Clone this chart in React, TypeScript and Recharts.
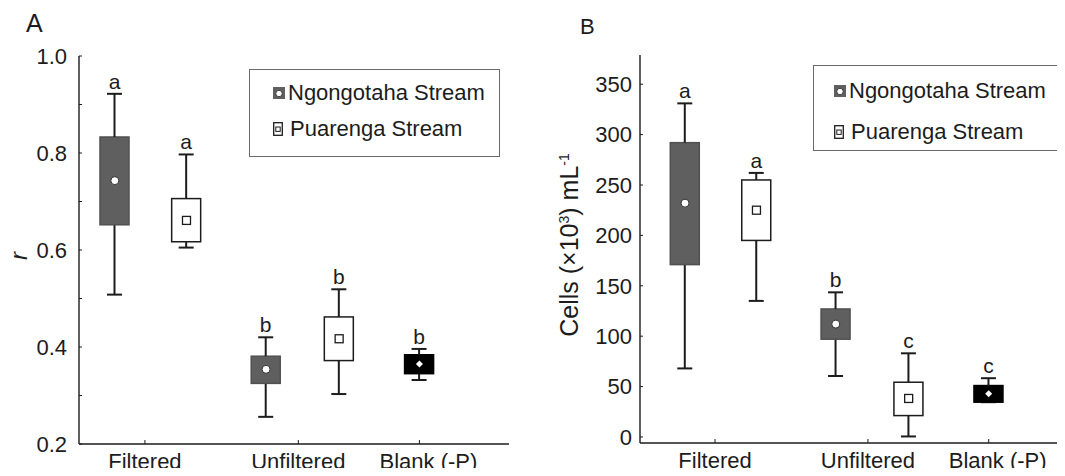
import React from "react";
import { ComposedChart, Bar, Scatter, XAxis, YAxis, LabelList, Label } from "recharts";

const FONT = '"Liberation Sans", Arial, Helvetica, sans-serif';
const INK = "#1c1c1c";
const NGO_FILL = "#5f5f5f";

const treatments = ["Filtered", "Unfiltered", "Blank (-P)"];
// slot of each treatment label / each box along the (numeric) category axis
const treatmentX = [1.42, 3.56, 5.25];
const slotX = [1, 2, 3.11, 4.13, 5.25];
const slotStream = ["ngo", "pua", "ngo", "pua", "blank"];
const streams = ["Ngongotaha Stream", "Puarenga Stream"];

// panel A: r
const rMin = [0.508, 0.605, 0.256, 0.303, 0.332];
const rQ1 = [0.652, 0.617, 0.325, 0.372, 0.345];
const rMean = [0.743, 0.661, 0.354, 0.417, 0.365];
const rQ3 = [0.833, 0.706, 0.381, 0.462, 0.384];
const rMax = [0.922, 0.797, 0.42, 0.519, 0.396];
const rLetters = ["a", "a", "b", "b", "b"];
const rTicks = [0.2, 0.3, 0.4, 0.5, 0.6, 0.7, 0.8, 0.9, 1.0];
const rRightTicks = [0.3, 0.4, 0.5, 0.6, 0.7, 0.8, 0.9];

// panel B: cells (x10^3) per mL
const cMin = [68, 135, 60.5, 0.5, 34.5];
const cQ1 = [171, 195, 97, 21.2, 34.5];
const cMean = [232, 225, 112, 38.2, 42.8];
const cQ3 = [292, 255, 127, 54.3, 51];
const cMax = [331, 262, 143.5, 83, 58.3];
const cLetters = ["a", "a", "b", "c", "c"];
const cTicks = [0, 50, 100, 150, 200, 250, 300, 350];

function buildRows(min: number[], q1: number[], mean: number[], q3: number[], max: number[], letters: string[]) {
  return slotX.map((x, i) => ({
    x,
    stream: slotStream[i],
    letter: letters[i],
    mean: mean[i],
    base: min[i],
    lower: q1[i] - min[i],
    box: q3[i] - q1[i],
    upper: max[i] - q3[i],
  }));
}

const rowsA = buildRows(rMin, rQ1, rMean, rQ3, rMax, rLetters);
const rowsB = buildRows(cMin, cQ1, cMean, cQ3, cMax, cLetters);

const CAP = 15;

const LowerWhisker = (p: any) => {
  const cx = p.x + p.width / 2;
  const y2 = p.y + p.height;
  return (
    <g>
      <line x1={cx} x2={cx} y1={p.y} y2={y2} stroke={INK} strokeWidth={2} />
      <line x1={cx - CAP / 2} x2={cx + CAP / 2} y1={y2} y2={y2} stroke={INK} strokeWidth={2} />
    </g>
  );
};

const UpperWhisker = (p: any) => {
  const cx = p.x + p.width / 2;
  return (
    <g>
      <line x1={cx} x2={cx} y1={p.y} y2={p.y + p.height} stroke={INK} strokeWidth={2} />
      <line x1={cx - CAP / 2} x2={cx + CAP / 2} y1={p.y} y2={p.y} stroke={INK} strokeWidth={2} />
    </g>
  );
};

const BoxShape = (p: any) => {
  const s = p.payload.stream;
  const fill = s === "ngo" ? NGO_FILL : s === "blank" ? "#000" : "#fff";
  const stroke = s === "pua" ? INK : s === "ngo" ? "#505050" : "#000";
  return <rect x={p.x} y={p.y} width={p.width} height={p.height} fill={fill} stroke={stroke} strokeWidth={1.5} />;
};

const MeanMarker = (p: any) => {
  const { cx, cy, payload } = p;
  if (payload.stream === "ngo") return <circle cx={cx} cy={cy} r={4} fill="#fff" stroke="#333" strokeWidth={1} />;
  if (payload.stream === "pua")
    return <rect x={cx - 4} y={cy - 4} width={8} height={8} fill="#fff" stroke={INK} strokeWidth={1.3} />;
  return <path d={`M${cx} ${cy - 3.5}L${cx + 3.5} ${cy}L${cx} ${cy + 3.5}L${cx - 3.5} ${cy}Z`} fill="#fff" />;
};

const XTick = (p: any) => {
  const i = treatmentX.indexOf(p.payload.value);
  const dx = i === 2 ? 9 : 0;
  return (
    <text x={p.x + dx} y={p.y} dy="0.71em" textAnchor="middle" fontSize={22} fill={INK} fontFamily={FONT}>
      {treatments[i]}
    </text>
  );
};

type PanelProps = {
  rows: any[];
  width: number;
  margin: { top: number; right: number; bottom: number; left: number };
  yWidth: number;
  xHeight: number;
  xDomain: [number, number];
  yDomain: [number, number];
  yTicks: number[];
  yRightTicks: number[];
  yFmt: (v: number) => string;
  yTickMargin: number;
  yLabel: (vb: any) => React.ReactNode;
};

function BoxPanel(props: PanelProps) {
  const axisLine = { stroke: INK, strokeWidth: 1.4 };
  return (
    <ComposedChart width={props.width} height={476} data={props.rows} margin={props.margin}>
      <XAxis
        dataKey="x"
        type="number"
        domain={props.xDomain}
        allowDataOverflow
        ticks={treatmentX}
        interval={0}
        height={props.xHeight}
        tickSize={-4}
        tickMargin={13}
        axisLine={axisLine}
        tickLine={{ stroke: INK }}
        tick={<XTick />}
      />
      <XAxis
        xAxisId="top"
        orientation="top"
        type="number"
        domain={props.xDomain}
        allowDataOverflow
        height={0}
        tick={false}
        tickLine={false}
        axisLine={axisLine}
      />
      <YAxis
        type="number"
        domain={props.yDomain}
        allowDataOverflow
        ticks={props.yTicks}
        interval={0}
        width={props.yWidth}
        tickSize={-3}
        tickMargin={props.yTickMargin}
        tickFormatter={props.yFmt}
        axisLine={axisLine}
        tickLine={{ stroke: INK }}
        tick={{ fill: INK, fontSize: 22, fontFamily: FONT }}
      >
        <Label content={(lp: any) => props.yLabel(lp.viewBox)} />
      </YAxis>
      <YAxis
        yAxisId="right"
        orientation="right"
        type="number"
        domain={props.yDomain}
        allowDataOverflow
        ticks={props.yRightTicks}
        interval={0}
        width={0}
        tickSize={-3}
        tick={false}
        axisLine={axisLine}
        tickLine={{ stroke: INK }}
      />
      <Bar dataKey="base" stackId="box" barSize={29} shape={() => <g />} isAnimationActive={false} />
      <Bar dataKey="lower" stackId="box" barSize={29} shape={LowerWhisker} isAnimationActive={false} />
      <Bar dataKey="box" stackId="box" barSize={29} shape={BoxShape} isAnimationActive={false} />
      <Bar dataKey="upper" stackId="box" barSize={29} shape={UpperWhisker} isAnimationActive={false}>
        <LabelList dataKey="letter" position="top" offset={5} fill={INK} fontSize={21} fontFamily={FONT} />
      </Bar>
      <Scatter dataKey="mean" shape={MeanMarker} isAnimationActive={false} />
    </ComposedChart>
  );
}

const NgoMarker = () => (
  <svg width={12} height={12} style={{ display: "block" }}>
    <rect x={0} y={0} width={12} height={12} fill={NGO_FILL} />
    <circle cx={6} cy={6.5} r={3.2} fill="#fff" stroke="#222" strokeWidth={0.8} />
  </svg>
);

const PuaMarker = () => (
  <svg width={10} height={14} style={{ display: "block" }}>
    <rect x={0.7} y={0.7} width={8.6} height={12.6} fill="#fff" stroke={INK} strokeWidth={1.3} />
    <rect x={2.8} y={5} width={4.4} height={4.4} fill="#fff" stroke={INK} strokeWidth={1} />
  </svg>
);

function StreamLegend(props: { left: number; top: number; width: number; height: number; markerLeft: number; rows: number[] }) {
  const markers = [<NgoMarker />, <PuaMarker />];
  const gaps = [3, 7];
  return (
    <div
      style={{
        position: "absolute",
        left: props.left,
        top: props.top,
        width: props.width,
        height: props.height,
        border: "1px solid #6a6a6a",
        boxSizing: "border-box",
        background: "#fff",
      }}
    >
      {streams.map((name, i) => (
        <div
          key={name}
          style={{
            position: "absolute",
            left: props.markerLeft,
            top: props.rows[i] - 12,
            height: 24,
            display: "flex",
            alignItems: "center",
            fontSize: 22,
            lineHeight: "24px",
            whiteSpace: "nowrap",
          }}
        >
          {markers[i]}
          <span style={{ marginLeft: gaps[i] }}>{name}</span>
        </div>
      ))}
    </div>
  );
}

export default function App() {
  return (
    <div
      style={{
        position: "relative",
        width: 1065,
        height: 476,
        margin: -8,
        overflow: "hidden",
        background: "#fff",
        fontFamily: FONT,
        color: INK,
      }}
    >
      <div style={{ position: "absolute", left: 0, top: 0 }}>
        <BoxPanel
          rows={rowsA}
          width={530}
          margin={{ top: 56, right: 21, bottom: 0, left: 0 }}
          yWidth={79}
          xHeight={32}
          xDomain={[0.5, 6.5]}
          yDomain={[0.2, 1.0]}
          yTicks={rTicks}
          yRightTicks={rRightTicks}
          yFmt={(v: number) => (Math.round(v * 10) % 2 === 0 ? v.toFixed(1) : "")}
          yTickMargin={15}
          yLabel={(vb: any) => {
            const x = vb.x + 27;
            const y = vb.y + vb.height / 2 + 6;
            return (
              <text
                x={x}
                y={y}
                transform={`rotate(-90 ${x} ${y})`}
                textAnchor="middle"
                fontSize={24}
                fontStyle="italic"
                fill={INK}
                fontFamily={FONT}
              >
                r
              </text>
            );
          }}
        />
      </div>
      <div style={{ position: "absolute", left: 530, top: 0 }}>
        <BoxPanel
          rows={rowsB}
          width={550}
          margin={{ top: 55, right: 2, bottom: 0, left: 0 }}
          yWidth={110}
          xHeight={33}
          xDomain={[0.37, 6.5]}
          yDomain={[-6, 379]}
          yTicks={cTicks}
          yRightTicks={cTicks}
          yFmt={(v: number) => String(v)}
          yTickMargin={11}
          yLabel={(vb: any) => {
            const x = vb.x + 48;
            const y = vb.y + vb.height / 2 - 4;
            return (
              <text
                x={x}
                y={y}
                transform={`rotate(-90 ${x} ${y})`}
                textAnchor="middle"
                fontSize={25}
                fill={INK}
                fontFamily={FONT}
              >
                Cells (×10
                <tspan dy={-9} fontSize={14}>
                  3
                </tspan>
                <tspan dy={9}>) mL</tspan>
                <tspan dy={-9} fontSize={14}>
                  -1
                </tspan>
              </text>
            );
          }}
        />
      </div>
      <StreamLegend left={249} top={69} width={251} height={88} markerLeft={23} rows={[23, 59]} />
      <StreamLegend left={813} top={65} width={249} height={86} markerLeft={20} rows={[25, 66]} />
      <div style={{ position: "absolute", left: 26, top: 11, fontSize: 25, lineHeight: "25px" }}>A</div>
      <div style={{ position: "absolute", left: 580, top: 16, fontSize: 22, lineHeight: "22px" }}>B</div>
    </div>
  );
}
